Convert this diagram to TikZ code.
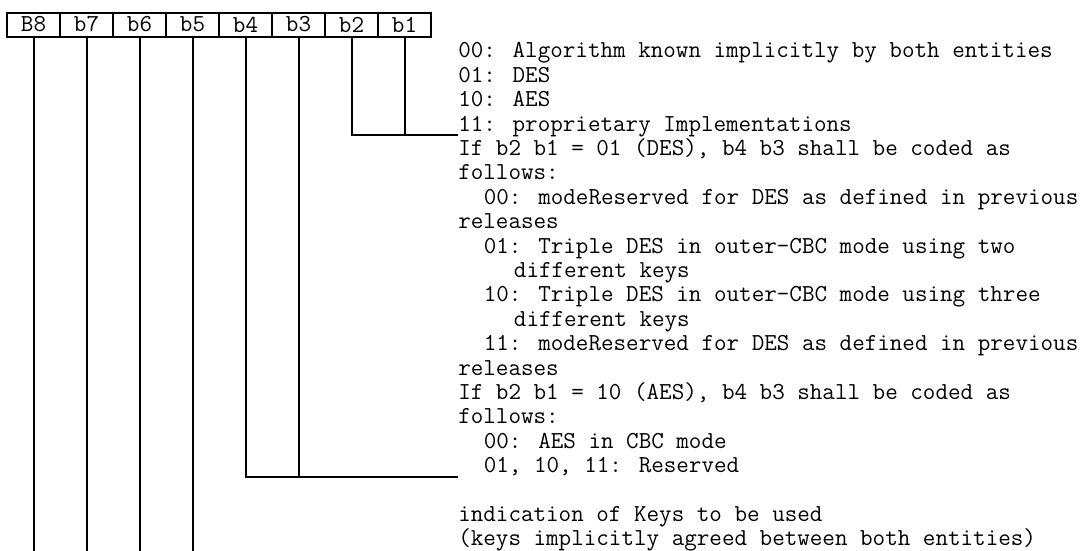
\documentclass[tikz,border=0pt]{standalone}
\usepackage{fontspec}
\newfontfamily\mono{Latin Modern Mono}
\begin{document}
\begin{tikzpicture}[x=0.75pt,y=-0.75pt,
  cell/.style={draw,line width=1.5pt,minimum width=53*0.75pt,minimum height=24*0.75pt,inner sep=0pt,font=\mono\fontsize{18.29}{20}\selectfont},
  txt/.style={anchor=base west,inner sep=0pt,font=\mono\fontsize{18.29}{20}\selectfont},
  wire/.style={line width=1.5pt}]
\useasboundingbox (0,0) rectangle (1091,550);
% register cells
\node[cell] (c8) at (33.5,24.5) {B8};
\node[cell] (c7) at (86.5,24.5) {b7};
\node[cell] (c6) at (139.5,24.5) {b6};
\node[cell] (c5) at (192.5,24.5) {b5};
\node[cell] (c4) at (245.5,24.5) {b4};
\node[cell] (c3) at (298.5,24.5) {b3};
\node[cell] (c2) at (351.5,24.5) {b2};
\node[cell] (c1) at (404.5,24.5) {b1};
% end points
\coordinate (e1) at (458,135);
\coordinate (e2) at (458,476.7);
\coordinate (bot) at (0,551);
% texts
\def\cw{12.8}
\node[txt] (t0) at (458,57.8) {00: Algorithm known implicitly by both entities};
\node[txt] (t1) at (458,82.2) {01: DES};
\node[txt] (t2) at (458,106.6) {10: AES};
\node[txt] (t3) at (458,131.0) {11: proprietary Implementations};
\node[txt] (t4) at (458,155.4) {If b2 b1 = 01 (DES), b4 b3 shall be coded as};
\node[txt] (t5) at (458,179.8) {follows:};
\node[txt] (t6) at ({458+2*\cw},204.2) {00: modeReserved for DES as defined in previous};
\node[txt] (t7) at (458,228.6) {releases};
\node[txt] (t8) at ({458+2*\cw},253.0) {01: Triple DES in outer-CBC mode using two};
\node[txt] (t9) at ({458+4.35*\cw},277.4) {different keys};
\node[txt] (t10) at ({458+2*\cw},301.8) {10: Triple DES in outer-CBC mode using three};
\node[txt] (t11) at ({458+4.35*\cw},326.2) {different keys};
\node[txt] (t12) at ({458+2*\cw},350.6) {11: modeReserved for DES as defined in previous};
\node[txt] (t13) at (458,375.0) {releases};
\node[txt] (t14) at (458,399.4) {If b2 b1 = 10 (AES), b4 b3 shall be coded as};
\node[txt] (t15) at (458,423.8) {follows:};
\node[txt] (t16) at ({458+2*\cw},448.2) {00: AES in CBC mode};
\node[txt] (t17) at ({458+2*\cw},472.6) {01, 10, 11: Reserved};
\node[txt] (t19) at (458,521.4) {indication of Keys to be used};
\node[txt] (t20) at (458,545.8) {(keys implicitly agreed between both entities)};
% connectors
\draw[wire] (c2.south) |- (e1);
\draw[wire] (c1.south) -- (c1.south |- e1);
\draw[wire] (c4.south) |- (e2);
\draw[wire] (c3.south) -- (c3.south |- e2);
\draw[wire] (c5.south) -- (c5.south |- bot);
\draw[wire] (c6.south) -- (c6.south |- bot);
\draw[wire] (c7.south) -- (c7.south |- bot);
\draw[wire] (c8.south) -- (c8.south |- bot);
\end{tikzpicture}
\end{document}
